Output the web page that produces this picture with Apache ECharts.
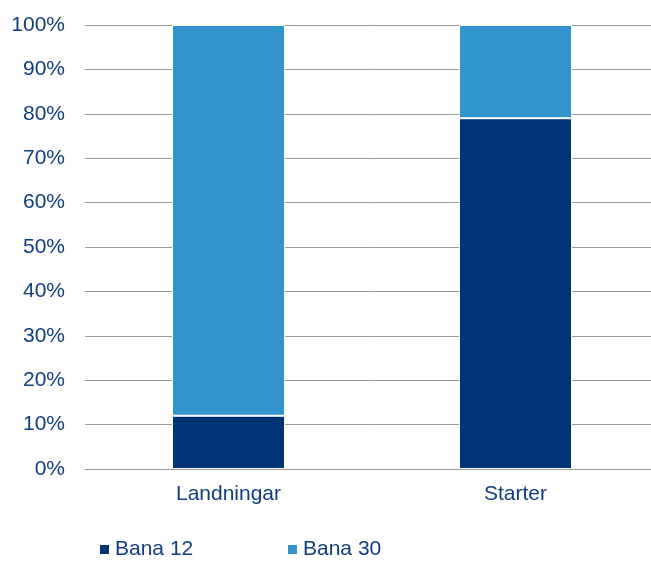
<!DOCTYPE html>
<html><head><meta charset="utf-8">
<script src="https://cdn.jsdelivr.net/npm/echarts@6/dist/echarts.min.js"></script>
<style>html,body{margin:0;padding:0;background:#fff;overflow:hidden}#c{width:651px;height:561px}</style>
</head><body><div id="c"></div>
<script>
const categories = ['Landningar', 'Starter'];
const bana12 = [12, 79];
const bana30 = [88, 21];
const yTicks = [0, 10, 20, 30, 40, 50, 60, 70, 80, 90, 100];

const textColor = '#0f3d80';
const font = 'Liberation Sans, Arial, sans-serif';
const legendText = {color: textColor, fontSize: 21, lineHeight: 21, fontFamily: font};
const chart = echarts.init(document.getElementById('c'), null, {renderer: 'canvas'});
chart.setOption({
  animation: false,
  grid: {left: 85, width: 574, top: 25, bottom: 92, containLabel: false, outerBoundsMode: 'none'},
  legend: [
    {left: 98, top: 539, padding: 0, itemWidth: 11, itemHeight: 11, icon: 'rect',
     textStyle: legendText, data: ['Bana 12']},
    {left: 286, top: 539, padding: 0, itemWidth: 11, itemHeight: 11, icon: 'rect',
     textStyle: legendText, data: ['Bana 30']}
  ],
  xAxis: {
    type: 'category', data: categories,
    axisLine: {lineStyle: {color: '#999', width: 1}},
    axisTick: {show: false},
    axisLabel: {color: textColor, fontSize: 21, margin: 15, fontFamily: font}
  },
  yAxis: {
    type: 'value', min: yTicks[0], max: yTicks[yTicks.length - 1], interval: 10,
    axisLine: {show: false}, axisTick: {show: false},
    splitLine: {lineStyle: {color: '#9a9a9a', width: 1}},
    axisLabel: {color: textColor, fontSize: 21, margin: 20, formatter: '{value}%', fontFamily: font}
  },
  series: [
    {name: 'Bana 12', type: 'bar', stack: 'a', data: bana12, barWidth: '39.4%',
     itemStyle: {color: '#003476', borderColor: '#fff', borderWidth: 1}},
    {name: 'Bana 30', type: 'bar', stack: 'a', data: bana30, barWidth: '39.4%',
     itemStyle: {color: '#3194cc', borderColor: '#fff', borderWidth: 1}}
  ]
});
</script></body></html>
